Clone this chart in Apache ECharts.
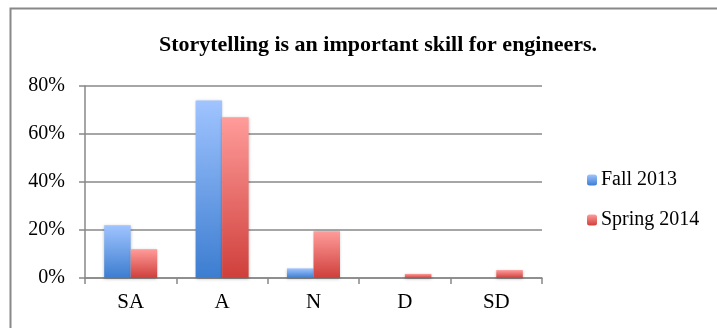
<!DOCTYPE html>
<html>
<head>
<meta charset="utf-8">
<script src="https://cdn.jsdelivr.net/npm/echarts@6/dist/echarts.min.js"></script>
<style>
  html, body { margin: 0; padding: 0; background: #fff; }
  #chart { width: 717px; height: 328px; }
</style>
</head>
<body>
<div id="chart"></div>
<script>
var categories = ['SA', 'A', 'N', 'D', 'SD'];
var fall2013 = [22, 74, 4, 0, 0];
var spring2014 = [12, 67, 19.5, 1.7, 3.3];
var yTicks = [0, 20, 40, 60, 80];

var dom = document.getElementById('chart');
var myChart = echarts.init(dom);

function grad(top, bottom) {
    return new echarts.graphic.LinearGradient(0, 0, 0, 1, [
        { offset: 0, color: top },
        { offset: 1, color: bottom }
    ]);
}

var serif = '"Liberation Serif", "Times New Roman", serif';

var option = {
    animation: false,
    title: {
        text: 'Storytelling is an important skill for engineers.',
        left: 373,
        textAlign: 'center',
        top: 29,
        textStyle: {
            fontFamily: serif,
            fontWeight: 'bold',
            fontSize: 22,
            color: '#000'
        }
    },
    graphic: [{
        type: 'rect',
        shape: { x: 10.5, y: 8.5, width: 720, height: 330 },
        style: { fill: null, stroke: '#888', lineWidth: 2 }
    }],
    legend: {
        orient: 'vertical',
        left: 582,
        top: 165,
        itemWidth: 10,
        itemHeight: 11,
        itemGap: 20,
        textStyle: { fontFamily: serif, fontSize: 20, color: '#000', padding: [0, 0, 0, -1] },
        data: ['Fall 2013', 'Spring 2014']
    },
    grid: {
        left: 85,
        top: 86,
        width: 457,
        height: 192
    },
    xAxis: {
        type: 'category',
        data: categories,
        axisLine: { lineStyle: { color: '#888', width: 1.5 } },
        axisTick: { show: true, length: 6, lineStyle: { color: '#888', width: 1.5 } },
        axisLabel: { fontFamily: serif, fontSize: 21, color: '#000', margin: 14 }
    },
    yAxis: {
        type: 'value',
        min: yTicks[0],
        max: yTicks[yTicks.length - 1],
        interval: 20,
        axisLine: { show: true, lineStyle: { color: '#888', width: 1.5 } },
        axisTick: { show: true, length: 6, lineStyle: { color: '#888', width: 1.5 } },
        splitLine: { lineStyle: { color: '#888', width: 1.5 } },
        axisLabel: {
            fontFamily: serif, fontSize: 20, color: '#000', margin: 20,
            formatter: function(v) { return v + '%'; }
        }
    },
    series: [{
        name: 'Fall 2013',
        type: 'bar',
        data: fall2013,
        barGap: '0%',
        barCategoryGap: '42%',
        itemStyle: {
            color: grad('#a0c4ff', '#3c7dd0'),
            shadowColor: 'rgba(0,0,0,0.25)',
            shadowBlur: 3,
            shadowOffsetY: 1
        }
    }, {
        name: 'Spring 2014',
        type: 'bar',
        data: spring2014,
        itemStyle: {
            color: grad('#ff9c9a', '#cf3f3b'),
            shadowColor: 'rgba(0,0,0,0.25)',
            shadowBlur: 3,
            shadowOffsetY: 1
        }
    }]
};

myChart.setOption(option);

window.addEventListener('resize', function() {
    myChart.resize();
});
</script>
</body>
</html>
